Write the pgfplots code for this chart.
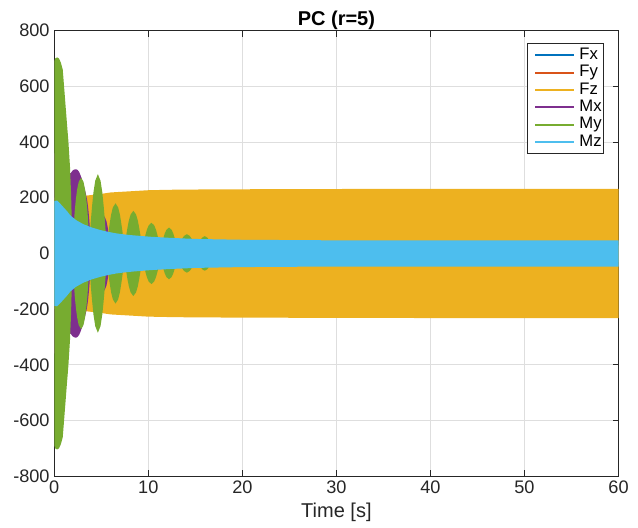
\documentclass[border=0pt]{standalone}
\usepackage{fontspec}
\setmainfont{Liberation Sans}
\usepackage{pgfplots}
\usepackage{pgfplotstable}
\pgfplotsset{compat=1.18}
\usepgfplotslibrary{fillbetween}
\definecolor{cFx}{HTML}{0072BD}
\definecolor{cFy}{HTML}{D95319}
\definecolor{cFz}{HTML}{EDB120}
\definecolor{cMx}{HTML}{7E2F8E}
\definecolor{cMy}{HTML}{77AC30}
\definecolor{cMz}{HTML}{4DBEEE}
\definecolor{cAx}{HTML}{262626}

% envelopes (half amplitude u, symmetric about 0)
\pgfplotstableread{
t u
0 30
60 30
}\tFx
\pgfplotstableread{
t u
0 25
60 25
}\tFy
\pgfplotstableread{
t u
0 200
2 204
3.5 208
5 214
6 219
8 223
10 227
13 229
17 230
25 231
40 232
60 232
}\tFz
\pgfplotstableread{
t u
0 360
1.0 330
1.6 290
1.75 288
1.9 296
2.05 300
2.2 302
2.35 302
2.5 299
2.65 292
2.8 280
2.95 266
3.1 250
3.25 230
3.4 208
3.5 190
3.6 165
3.7 130
3.8 85
3.9 35
3.95 0
4.05 40
4.2 75
4.4 105
4.6 125
4.8 137
5.0 141
5.2 138
5.4 128
5.55 115
5.7 90
5.82 55
5.95 0
6.0 0
}\tMx
\pgfplotstableread{
t u
0 690
0.1 700
0.3 704
0.5 700
0.7 685
0.9 660
1.03 604
1.21 526
1.35 465
1.49 407
1.67 311
1.78 220
1.86 120
1.93 0
2.0 0
2.034 68
2.085 107
2.17 151
2.289 193
2.425 229
2.595 257
2.85 272
3.105 257
3.275 229
3.411 193
3.53 151
3.615 107
3.666 68
3.7 0
3.737 36
3.794 71
3.887 118
4.018 170
4.168 220
4.355 261
4.635 285
4.916 261
5.103 220
5.252 170
5.383 118
5.477 71
5.533 36
5.57 0
5.608 23
5.664 45
5.758 75
5.890 107
6.04 139
6.228 165
6.51 180
6.792 165
6.98 139
7.13 107
7.262 75
7.356 45
7.412 23
7.45 0
7.488 19
7.546 38
7.641 63
7.775 91
7.928 118
8.119 140
8.405 153
8.692 140
8.883 118
9.035 91
9.169 63
9.265 38
9.322 19
9.36 0
9.399 14
9.457 27
9.554 46
9.69 66
9.845 85
10.039 101
10.33 110
10.621 101
10.815 85
10.97 66
11.106 46
11.203 27
11.261 14
11.3 0
11.336 12
11.39 23
11.48 39
11.606 56
11.75 72
11.93 85
12.2 93
12.47 85
12.65 72
12.794 56
12.92 39
13.01 23
13.064 12
13.1 0
13.3 29
13.44 41
13.6 53
13.8 63
14.1 69
14.4 63
14.6 53
14.76 41
14.9 29
15.1 0
15.28 26
15.55 48
15.73 57
16.0 62
16.27 57
16.45 48
16.72 26
16.9 0
}\tMy
\pgfplotstableread{
t u
0 188
0.3 190
0.6 180
1.0 165
1.4 150
1.7 137
2.3 120
3.1 105
4.0 93
4.9 84
5.8 77
6.6 72
7.5 68
8.4 65
10.2 60
12.3 56
15 52
20 49
30 47
60 47
}\tMz

\newcommand{\envelope}[3]{%
  \addplot[draw=none, forget plot, name path=#2U] table[x=t, y=u]{#1};
  \addplot[draw=none, forget plot, name path=#2L] table[x=t, y expr=-\thisrow{u}]{#1};
  \addplot[fill=#3, draw=none, forget plot] fill between[of=#2U and #2L];
}

\begin{document}
\begin{tikzpicture}
\begin{axis}[
  width=423pt, height=334pt, scale only axis,
  xmin=0, xmax=60, ymin=-800, ymax=800,
  xtick={0,10,...,60}, ytick={-800,-600,...,800},
  grid=major,
  major grid style={color=black!13, line width=0.5pt},
  tick align=inside, major tick length=4.5pt,
  tick style={color=cAx, line width=0.6pt},
  axis line style={color=cAx, line width=0.6pt},
  /pgf/number format/assume math mode=true,
  ticklabel style={font=\fontsize{13.6}{15}\selectfont, text=cAx},
  xlabel={Time [s]},
  xlabel style={font=\fontsize{15}{17}\selectfont, text=cAx},
  title={PC (r=5)},
  every axis title/.style={at={(0.5,1)}, anchor=base, yshift=3.7pt,
    font=\bfseries\fontsize{15}{17}\selectfont, text=black},
  legend style={at={(1,1)}, anchor=north east, xshift=-10.9pt, yshift=-9.5pt,
    draw=cAx, line width=0.5pt, fill=white,
    font=\fontsize{12.5}{14}\selectfont,
    inner xsep=1pt, inner ysep=2.2pt, row sep=0pt, column sep=2.75pt,
    nodes={inner xsep=0.5pt, inner ysep=0.25pt, text height=9.5pt, text depth=3pt},
    cells={anchor=west}},
  legend image code/.code={\path (0pt,0pt) (33.5pt,0pt);
    \draw[#1, line width=1.5pt] (4.5pt,0pt) -- (33.5pt,0pt);},
]
\envelope{\tFx}{fx}{cFx}
\envelope{\tFy}{fy}{cFy}
\envelope{\tFz}{fz}{cFz}
\envelope{\tMx}{mx}{cMx}
\envelope{\tMy}{my}{cMy}
\envelope{\tMz}{mz}{cMz}

\addlegendimage{cFx}\addlegendentry{Fx}
\addlegendimage{cFy}\addlegendentry{Fy}
\addlegendimage{cFz}\addlegendentry{Fz}
\addlegendimage{cMx}\addlegendentry{Mx}
\addlegendimage{cMy}\addlegendentry{My}
\addlegendimage{cMz}\addlegendentry{Mz}
\end{axis}
\pgfresetboundingbox
\path[use as bounding box] (-40.7pt,-38.5pt) rectangle (437.6pt,357pt);
\end{tikzpicture}
\end{document}
